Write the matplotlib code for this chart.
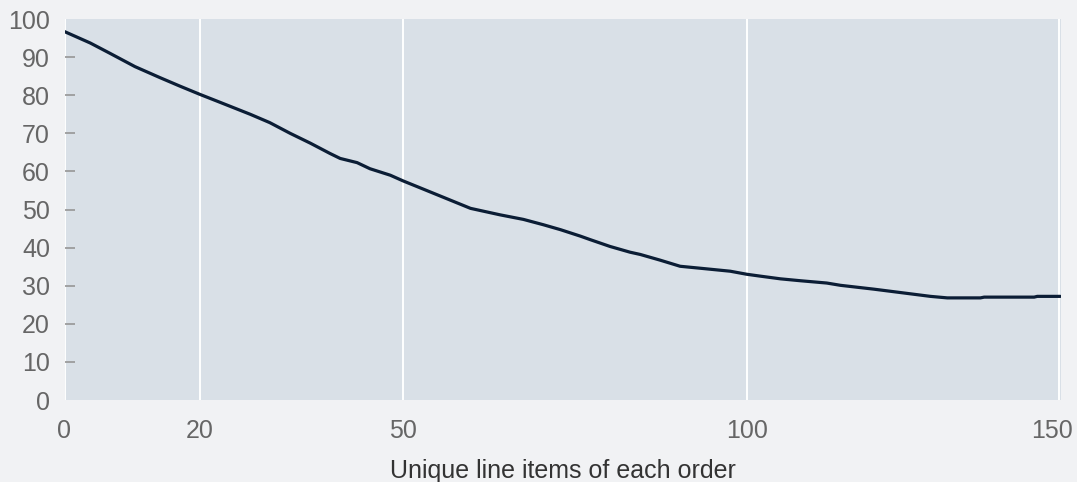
import numpy as np
import matplotlib
matplotlib.use("Agg")
import matplotlib.pyplot as plt
import matplotlib.transforms as mtransforms

# data
items = [0, 3.8, 6.7, 10.4, 14.1, 17.0, 20, 23.0, 27.4, 30.3, 33.3, 36.3, 39.2,
         40.7, 43.2, 45.1, 48.1, 50, 53.0, 56.4, 59.8, 64.1, 67.5, 70.4, 72.9,
         75.8, 77.2, 80.1, 83.0, 84.5, 87.4, 90.3, 93.7, 97.6, 100, 102.2, 105.4,
         108.6, 112.8, 115.0, 120.3, 129.4, 132.1, 137.4, 138.0, 146.0, 146.5, 150.2]
share = [96.7, 93.7, 91.0, 87.5, 84.6, 82.4, 80.2, 78.1, 75.0, 72.8, 70.0, 67.4, 64.7,
         63.4, 62.3, 60.7, 59.0, 57.5, 55.3, 52.8, 50.3, 48.6, 47.4, 46.0, 44.7,
         43.0, 42.1, 40.3, 38.8, 38.2, 36.7, 35.1, 34.5, 33.8, 33.0, 32.5, 31.8,
         31.3, 30.7, 30.1, 29.1, 27.2, 26.8, 26.8, 27.0, 27.0, 27.2, 27.2]
x_ticks = [0, 20, 50, 100, 150]
y_ticks = list(range(0, 101, 10))

# the x axis in the reference is not evenly spaced between labelled ticks
scale_vals = [0, 20, 50, 100, 150, 160]
scale_pos = [0, 135.5, 338.5, 682.0, 994.2, 1056.6]

def fwd(x):
    return np.interp(x, scale_vals, scale_pos)

def inv(p):
    return np.interp(p, scale_pos, scale_vals)

plt.rcParams['font.family'] = ['Liberation Sans', 'DejaVu Sans']

fig = plt.figure(figsize=(10.77, 4.82), dpi=100)
fig.patch.set_facecolor('#f1f2f4')
W, H = 1077, 482
ax = fig.add_axes([64.5 / W, (H - 400) / H, (1061 - 64.5) / W, (400 - 19) / H])
ax.set_facecolor('#d9e0e7')

ax.set_xscale('function', functions=(fwd, inv))
ax.plot(items, share, color='#0b1d35', linewidth=2.3, solid_capstyle='round', zorder=3)

ax.set_xlim(0, 150.3)
ax.set_ylim(0, 100)
ax.set_xticks(x_ticks)
ax.set_xticklabels([str(t) for t in x_ticks])
ax.set_yticks(y_ticks)
ax.xaxis.set_minor_locator(matplotlib.ticker.NullLocator())

for s in ax.spines.values():
    s.set_visible(False)

ax.grid(axis='x', color='white', linewidth=1.4, zorder=1)
ax.set_axisbelow(True)

ax.tick_params(axis='x', length=0, pad=14, labelsize=18, labelcolor='#666666')
ax.tick_params(axis='y', direction='in', length=7.5, width=1.3, color='#9c9c9c',
               pad=10.5, labelsize=18, labelcolor='#666666')
# no tick marks at the ends of the y axis
yt = ax.yaxis.get_major_ticks()
yt[0].tick1line.set_visible(False)
yt[-1].tick1line.set_visible(False)

# keep the last x label inside the figure, as in the reference
last = ax.xaxis.get_major_ticks()[-1].label1
last.set_transform(last.get_transform() + mtransforms.ScaledTranslation(-5 / 72, 0, fig.dpi_scale_trans))

ax.set_xlabel('Unique line items of each order', fontsize=18, color='#333333', labelpad=11)

fig.savefig('out.png', dpi=100, facecolor=fig.get_facecolor())
